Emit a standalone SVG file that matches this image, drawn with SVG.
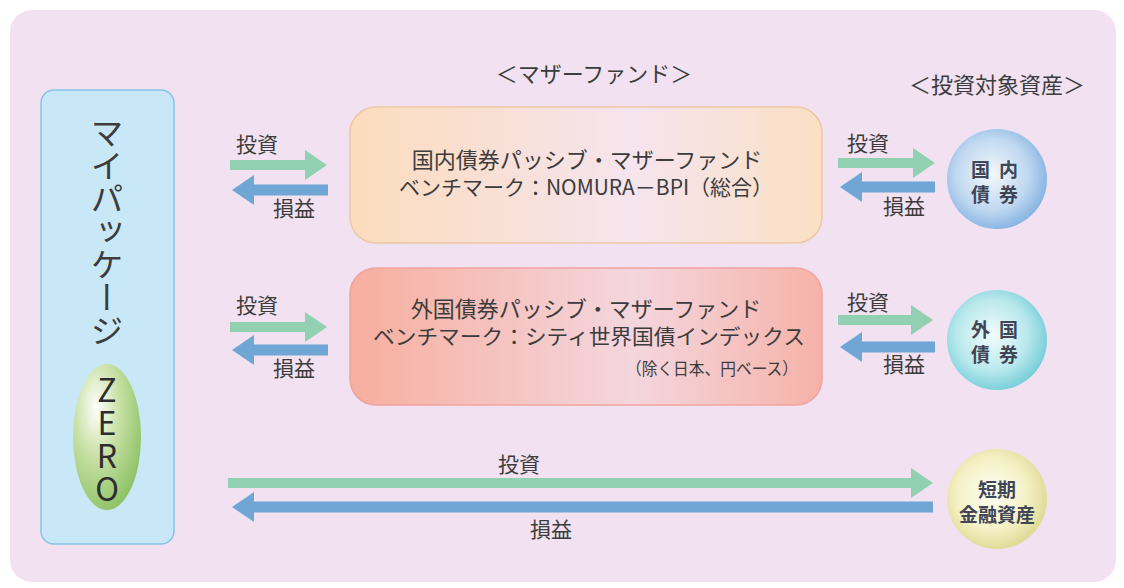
<svg xmlns="http://www.w3.org/2000/svg" width="1124" height="588" viewBox="0 0 1124 588">
<defs>
<style>
.t{font-family:"Noto Sans CJK JP","Noto Sans",sans-serif;fill:#3c3c3c}
.lbl{font-size:21px}
.box{font-size:22px}
.hdr{font-size:22px}
.cir{font-size:19px;font-weight:bold;fill:#404656}
.g{stroke:#92d0b2;stroke-width:10;fill:none}
.b{stroke:#6fa6d6;stroke-width:11;fill:none}
</style>
<marker id="hg" markerUnits="userSpaceOnUse" markerWidth="22" markerHeight="32" refX="2" refY="16" orient="auto"><path d="M0,1 L22,16 L0,31 z" fill="#92d0b2"/></marker>
<marker id="hb" markerUnits="userSpaceOnUse" markerWidth="22" markerHeight="32" refX="2" refY="16" orient="auto"><path d="M0,1 L22,16 L0,31 z" fill="#6fa6d6"/></marker>
<linearGradient id="gDom" x1="0" x2="1" y1="0" y2="0"><stop offset="0" stop-color="#fcdcbc"/><stop offset="0.6" stop-color="#f6e4ee"/><stop offset="1" stop-color="#fbe0c4"/></linearGradient>
<linearGradient id="gFor" x1="0" x2="1" y1="0" y2="0"><stop offset="0" stop-color="#f7ae9e"/><stop offset="0.6" stop-color="#f4d6de"/><stop offset="1" stop-color="#f6b2a8"/></linearGradient>
<radialGradient id="cBlue" cx="0.45" cy="0.45" r="0.6"><stop offset="0" stop-color="#f4f8fc"/><stop offset="0.6" stop-color="#c0d8f0"/><stop offset="1" stop-color="#7eaee0"/></radialGradient>
<radialGradient id="cCyan" cx="0.45" cy="0.45" r="0.6"><stop offset="0" stop-color="#f4fcfc"/><stop offset="0.6" stop-color="#b8e8ec"/><stop offset="1" stop-color="#6ccad6"/></radialGradient>
<radialGradient id="cYel" cx="0.45" cy="0.45" r="0.6"><stop offset="0" stop-color="#fffff4"/><stop offset="0.6" stop-color="#f4f0c4"/><stop offset="1" stop-color="#dcd68c"/></radialGradient>
<radialGradient id="zero" cx="0.35" cy="0.3" r="0.75"><stop offset="0" stop-color="#ffffff"/><stop offset="0.45" stop-color="#c8e0a4"/><stop offset="1" stop-color="#8cc264"/></radialGradient>
</defs>
<rect width="1124" height="588" fill="#ffffff"/>
<rect x="10" y="10" width="1106" height="572" rx="22" fill="#f1e1f1"/>

<g id="mypackage">
<rect x="41" y="90" width="133" height="454" rx="13" fill="#c8e8f8" stroke="#86c4e2" stroke-width="1.5"/>
<text class="t" x="107" y="116" font-size="33" style="writing-mode:vertical-rl" fill="#2e2e2e">マイパッケージ</text>
<ellipse cx="107" cy="437" rx="34" ry="73" fill="url(#zero)"/>
<text x="107" y="374" font-family="Noto Sans CJK JP, sans-serif" font-size="32" fill="#2e2e2e" style="writing-mode:vertical-rl;text-orientation:upright" letter-spacing="1">ZERO</text>
</g>

<g id="headers">
<text class="t hdr" x="594" y="82" text-anchor="middle">＜マザーファンド＞</text>
<text class="t hdr" x="997" y="93" text-anchor="middle">＜投資対象資産＞</text>
</g>

<g id="domestic-fund">
<rect x="350" y="107" width="472" height="136" rx="26" fill="url(#gDom)" stroke="#ecc8a4" stroke-width="1.5"/>
<text class="t box" x="587" y="168" text-anchor="middle">国内債券パッシブ・マザーファンド</text>
<text class="t" x="586" y="195" font-size="21" text-anchor="middle">ベンチマーク：NOMURA－BPI（総合）</text>
</g>

<g id="foreign-fund">
<rect x="350" y="268" width="472" height="137" rx="26" fill="url(#gFor)" stroke="#f0a4a0" stroke-width="1.5"/>
<text class="t box" x="586" y="317" text-anchor="middle">外国債券パッシブ・マザーファンド</text>
<text class="t" x="589" y="344" font-size="21" text-anchor="middle" textLength="432" lengthAdjust="spacingAndGlyphs">ベンチマーク：シティ世界国債インデックス</text>
<text class="t" x="798" y="375" text-anchor="end" font-size="17" textLength="172" lengthAdjust="spacingAndGlyphs">（除く日本、円ベース）</text>
</g>

<g id="domestic-bond">
<circle cx="997" cy="179" r="50" fill="url(#cBlue)"/>
<text class="t cir" x="999" y="177" text-anchor="middle" letter-spacing="9">国内</text>
<text class="t cir" x="999" y="202" text-anchor="middle" letter-spacing="9">債券</text>
</g>

<g id="foreign-bond">
<circle cx="997" cy="340" r="50" fill="url(#cCyan)"/>
<text class="t cir" x="999" y="337" text-anchor="middle" letter-spacing="9">外国</text>
<text class="t cir" x="999" y="362" text-anchor="middle" letter-spacing="9">債券</text>
</g>

<g id="short-term">
<circle cx="997" cy="499" r="50" fill="url(#cYel)"/>
<text class="t cir" x="997" y="497" text-anchor="middle">短期</text>
<text class="t cir" x="997" y="522" text-anchor="middle">金融資産</text>
</g>

<g id="connectors">
<line class="g" x1="230" y1="165" x2="307" y2="165" marker-end="url(#hg)"/>
<line class="b" x1="328" y1="190" x2="252" y2="190" marker-end="url(#hb)"/>
<line class="g" x1="230" y1="327" x2="307" y2="327" marker-end="url(#hg)"/>
<line class="b" x1="328" y1="350" x2="252" y2="350" marker-end="url(#hb)"/>
<line class="g" x1="838" y1="163" x2="915" y2="163" marker-end="url(#hg)"/>
<line class="b" x1="935" y1="187" x2="860" y2="187" marker-end="url(#hb)"/>
<line class="g" x1="838" y1="320" x2="913" y2="320" marker-end="url(#hg)"/>
<line class="b" x1="935" y1="347" x2="860" y2="347" marker-end="url(#hb)"/>
<line class="g" x1="228" y1="483" x2="913" y2="483" marker-end="url(#hg)"/>
<line class="b" x1="933" y1="507" x2="252" y2="507" marker-end="url(#hb)"/>
</g>

<g id="connector-labels">
<text class="t lbl" x="236" y="152">投資</text>
<text class="t lbl" x="273" y="216">損益</text>
<text class="t lbl" x="236" y="313">投資</text>
<text class="t lbl" x="273" y="376">損益</text>
<text class="t lbl" x="847" y="151">投資</text>
<text class="t lbl" x="883" y="214">損益</text>
<text class="t lbl" x="847" y="310">投資</text>
<text class="t lbl" x="883" y="372">損益</text>
<text class="t lbl" x="498" y="472">投資</text>
<text class="t lbl" x="530" y="537">損益</text>
</g>
</svg>
